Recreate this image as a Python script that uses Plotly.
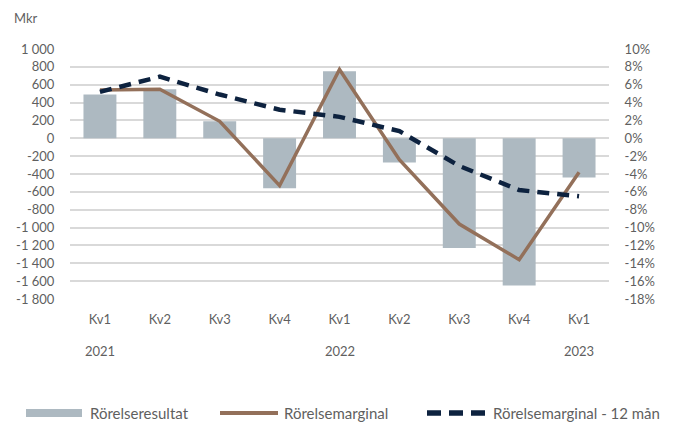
import plotly.graph_objects as go

quarters = ["Kv1", "Kv2", "Kv3", "Kv4", "Kv1", "Kv2", "Kv3", "Kv4", "Kv1"]
years = ["2021", "", "", "", "2022", "", "", "", "2023"]
rorelseresultat = [490, 550, 190, -560, 750, -270, -1230, -1650, -440]
rorelsemarginal = [5.4, 5.5, 1.9, -5.3, 7.7, -2.4, -9.6, -13.6, -3.8]
marginal_12m = [5.2, 6.9, 4.9, 3.2, 2.4, 0.8, -3.1, -5.8, -6.5]
series_names = ["Rörelseresultat", "Rörelsemarginal", "Rörelsemarginal - 12 mån"]

left_ticks = list(range(1000, -1801, -200))
left_text = [(f"{v:,}".replace(",", " ") if abs(v) >= 1000 else str(v)) for v in left_ticks]
right_ticks = list(range(10, -19, -2))
right_text = [f"{v}%" for v in right_ticks]

x = list(range(len(quarters)))
font_family = "Lato, 'Noto Sans', sans-serif"
grey = "#5f5f5f"
bar_col, brown, navy = "#adb9c1", "#93705a", "#0d223f"
W, H = 674, 425

fig = go.Figure()
fig.add_trace(go.Bar(x=x, y=rorelseresultat, name=series_names[0], showlegend=False,
                     marker=dict(color=bar_col, line=dict(width=0)), width=0.55))
fig.add_trace(go.Scatter(x=x, y=rorelsemarginal, name=series_names[1], yaxis="y2", showlegend=False,
                         mode="lines", line=dict(color=brown, width=3.5)))
fig.add_trace(go.Scatter(x=x, y=marginal_12m, name=series_names[2], yaxis="y2", showlegend=False,
                         mode="lines", line=dict(color=navy, width=4.5, dash="12px,8px")))

for i, yr in enumerate(years):
    if yr:
        fig.add_annotation(x=i, y=1 - 351 / H, xref="x", yref="paper", text=yr, showarrow=False,
                           font=dict(family=font_family, size=13, color=grey), yanchor="middle")

fig.add_annotation(x=12 / W, y=1 - 18 / H, xref="paper", yref="paper", text="Mkr", showarrow=False,
                   xanchor="left", yanchor="middle", font=dict(family=font_family, size=13, color=grey))

# custom legend
ly = 1 - 413 / H
sw = [(26, 82), (220, 278), (427, 485)]
tx = [88, 282, 491]
fig.add_shape(type="rect", xref="paper", yref="paper", x0=sw[0][0] / W, x1=sw[0][1] / W,
              y0=1 - 417 / H, y1=1 - 409 / H, fillcolor=bar_col, line=dict(width=0))
fig.add_shape(type="line", xref="paper", yref="paper", x0=sw[1][0] / W, x1=sw[1][1] / W,
              y0=ly, y1=ly, line=dict(color=brown, width=4))
fig.add_shape(type="line", xref="paper", yref="paper", x0=sw[2][0] / W, x1=sw[2][1] / W,
              y0=ly, y1=ly, line=dict(color=navy, width=5.5, dash="14px,8px"))
for t, name in zip(tx, series_names):
    fig.add_annotation(x=t / W, y=ly, xref="paper", yref="paper", text=name, showarrow=False,
                       xanchor="left", yanchor="middle",
                       font=dict(family=font_family, size=15, color=grey))

fig.update_layout(
    width=W, height=H,
    margin=dict(l=0, r=0, t=0, b=0, autoexpand=False),
    paper_bgcolor="white", plot_bgcolor="white",
    font=dict(family=font_family, size=13, color=grey),
    showlegend=False,
    xaxis=dict(domain=[70 / W, 609 / W], tickmode="array", tickvals=x, ticktext=quarters,
               range=[-0.5, 8.5], showgrid=False, zeroline=False, showline=False,
               ticks="outside", ticklen=8, tickcolor="rgba(0,0,0,0)", automargin=False),
    yaxis=dict(domain=[1 - 299 / H, 1 - 49 / H], range=[-1800, 1000], tickmode="array",
               tickvals=left_ticks, ticktext=left_text,
               showgrid=True, gridcolor="#d9d9d9", gridwidth=2, zeroline=False,
               ticks="outside", ticklen=12, tickcolor="rgba(0,0,0,0)", automargin=False),
    yaxis2=dict(range=[-18, 10], tickmode="array", tickvals=right_ticks, ticktext=right_text,
                overlaying="y", side="right", showgrid=False, zeroline=False, anchor="x",
                ticks="outside", ticklen=12, tickcolor="rgba(0,0,0,0)", automargin=False),
)

fig.write_html("out.html", config={"displayModeBar": False},
               post_script="document.body.style.margin='0';")
